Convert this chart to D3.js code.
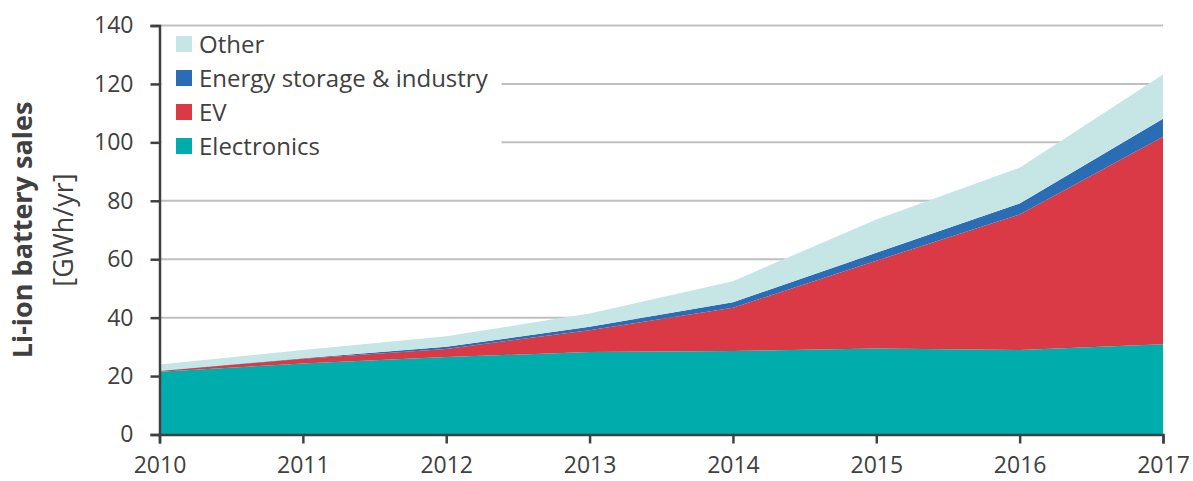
<!DOCTYPE html>
<html>
<head>
<meta charset="utf-8">
<script src="https://cdn.jsdelivr.net/npm/d3@7"></script>
<style>
  body { margin: 0; background: #fff; }
  svg text { font-family: "Open Sans", sans-serif; fill: #404040; }
</style>
</head>
<body>
<div id="chart"></div>
<script>
// data (GWh/yr)
const years = [2010, 2011, 2012, 2013, 2014, 2015, 2016, 2017]
const electronics = [21.5, 24.3, 26.5, 28.2, 28.6, 29.4, 28.9, 30.9]
const ev = [0.2, 1.6, 2.8, 7.5, 14.8, 30.1, 46.4, 71.0]
const storage = [0.1, 0.2, 0.7, 1.2, 1.9, 2.7, 3.8, 6.2]
const other = [2.2, 2.8, 3.6, 4.5, 7.2, 11.4, 12.2, 15.1]
const yTicks = [0, 20, 40, 60, 80, 100, 120, 140]

const seriesKeys = ['Electronics', 'EV', 'Energy storage & industry', 'Other']
const colors = ['#00adad', '#d93a46', '#2a6db5', '#c5e6e4']

const rows = years.map((y, i) => ({
    year: y,
    'Electronics': electronics[i],
    'EV': ev[i],
    'Energy storage & industry': storage[i],
    'Other': other[i]
}))

const W = 1193, H = 481
const margin = { top: 25.5, right: 30, bottom: 46.5, left: 159.5 }

const svg = d3.select('#chart').append('svg')
    .attr('width', W)
    .attr('height', H)

const x = d3.scaleLinear()
    .domain([2010, 2017])
    .range([margin.left, W - margin.right])

const y = d3.scaleLinear()
    .domain([0, 140])
    .range([H - margin.bottom, margin.top])

// gridlines
svg.append('g')
    .selectAll('line')
    .data(yTicks.filter(d => d > 0))
    .enter()
    .append('line')
    .attr('x1', x(2010))
    .attr('x2', x(2017))
    .attr('y1', d => y(d))
    .attr('y2', d => y(d))
    .attr('stroke', '#bfbfbf')
    .attr('stroke-width', 2)

// stacked areas
const stack = d3.stack().keys(seriesKeys)
const layers = stack(rows)

const area = d3.area()
    .x(d => x(d.data.year))
    .y0(d => y(d[0]))
    .y1(d => y(d[1]))

svg.append('g')
    .selectAll('path')
    .data(layers)
    .enter()
    .append('path')
    .attr('d', area)
    .attr('fill', (d, i) => colors[i])

// legend (white box hides the gridlines behind it)
const legendKeys = seriesKeys.slice().reverse()
const legendColors = colors.slice().reverse()

svg.append('rect')
    .attr('x', x(2010) + 2)
    .attr('y', 28)
    .attr('width', 340)
    .attr('height', 136)
    .attr('fill', '#fff')

const legend = svg.append('g')
    .attr('transform', 'translate(176,44)')

legendKeys.forEach((k, i) => {
    const g = legend.append('g').attr('transform', `translate(0,${i * 34})`)
    g.append('rect')
        .attr('x', 0)
        .attr('y', -8)
        .attr('width', 16)
        .attr('height', 16)
        .attr('fill', legendColors[i])
    g.append('text')
        .attr('x', 23)
        .attr('y', 0)
        .attr('dy', '0.36em')
        .style('font-size', '24px')
        .text(k)
})

// axes
const yAxis = svg.append('g')
    .attr('transform', `translate(${x(2010)},0)`)
    .call(d3.axisLeft(y).tickValues(yTicks).tickSize(9).tickPadding(17))

const xAxis = svg.append('g')
    .attr('transform', `translate(0,${y(0)})`)
    .call(d3.axisBottom(x).tickValues(years).tickFormat(d3.format('d')).tickSize(9).tickPadding(13))

;[xAxis, yAxis].forEach(a => {
    a.select('.domain').attr('stroke', '#404040').attr('stroke-width', 2.5)
    a.selectAll('.tick line').attr('stroke', '#404040').attr('stroke-width', 2.5)
    a.selectAll('text').style('font-size', '23px').attr('fill', '#404040')
})

// y-axis title
svg.append('text')
    .attr('transform', `translate(32,${y(70)}) rotate(-90)`)
    .attr('text-anchor', 'middle')
    .style('font-size', '27px')
    .style('font-weight', 'bold')
    .text('Li-ion battery sales')

svg.append('text')
    .attr('transform', `translate(73,${y(70)}) rotate(-90)`)
    .attr('text-anchor', 'middle')
    .style('font-size', '27px')
    .text('[GWh/yr]')
</script>
</body>
</html>
